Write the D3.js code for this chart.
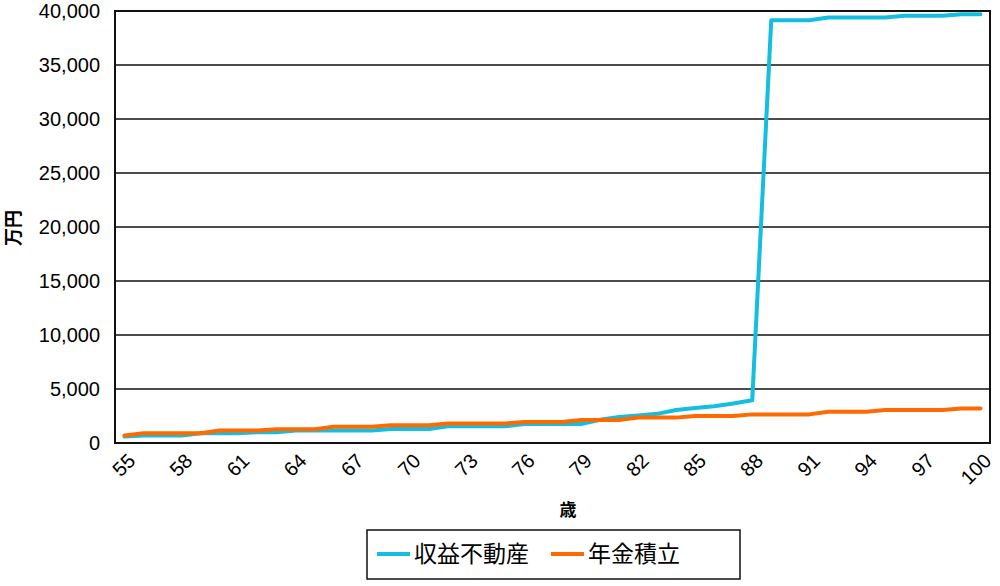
<!DOCTYPE html>
<html>
<head>
<meta charset="utf-8">
<script src="https://cdn.jsdelivr.net/npm/d3@7"></script>
<style>
  html, body { margin: 0; padding: 0; background: #fff; }
  svg { display: block; }
  text { font-family: "Liberation Sans", Arial, sans-serif; fill: #000; }
  .jp { font-family: "Noto Sans CJK JP", "Noto Sans", sans-serif; }
</style>
</head>
<body>
<svg id="chart" width="1000" height="586"></svg>
<script>
const ages = d3.range(55, 101);
const ageTickLabels = [55, 58, 61, 64, 67, 70, 73, 76, 79, 82, 85, 88, 91, 94, 97, 100];
const yTicks = [0, 5000, 10000, 15000, 20000, 25000, 30000, 35000, 40000];

const seriesNames = ["収益不動産", "年金積立"];
const seriesColors = ["#14BEE0", "#FF6A00"];

// 収益不動産 (age 55..100)
const realEstate = [
  600, 700, 700, 700, 900, 900, 900, 1000, 1000, 1150,
  1150, 1150, 1150, 1150, 1300, 1300, 1300, 1550, 1550, 1550,
  1550, 1750, 1750, 1750, 1750, 2150, 2400, 2550, 2700, 3050,
  3250, 3400, 3650, 3950, 39150, 39150, 39150, 39400, 39400, 39400,
  39400, 39550, 39550, 39550, 39700, 39700
];
// 年金積立 (age 55..100)
const pension = [
  700, 900, 900, 900, 900, 1150, 1150, 1150, 1280, 1280,
  1280, 1500, 1500, 1500, 1650, 1650, 1650, 1800, 1800, 1800,
  1800, 1950, 1950, 1950, 2130, 2130, 2130, 2350, 2350, 2350,
  2500, 2500, 2500, 2650, 2650, 2650, 2650, 2900, 2900, 2900,
  3050, 3050, 3050, 3050, 3200, 3200
];
const seriesValues = [realEstate, pension];

const svg = d3.select("#chart");
const L = 115, R = 990, T = 11, B = 443;

const x = d3.scaleBand().domain(ages).range([L, R]).padding(0);
const cx = a => x(a) + x.bandwidth() / 2;
const y = d3.scaleLinear().domain([0, 40000]).range([B, T]);

// gridlines
svg.append("g")
  .selectAll("line")
  .data(yTicks.filter(v => v > 0 && v < 40000))
  .join("line")
  .attr("x1", L).attr("x2", R)
  .attr("y1", d => y(d)).attr("y2", d => y(d))
  .attr("stroke", "#111").attr("stroke-width", 1.5);

// plot border
svg.append("rect")
  .attr("x", L).attr("y", T).attr("width", R - L).attr("height", B - T)
  .attr("fill", "none").attr("stroke", "#111").attr("stroke-width", 2);

// y axis labels
const fmt = d3.format(",");
svg.append("g")
  .selectAll("text")
  .data(yTicks)
  .join("text")
  .attr("x", 100).attr("y", d => y(d))
  .attr("dy", "0.36em")
  .attr("text-anchor", "end")
  .attr("font-size", 20)
  .text(d => fmt(d));

// x axis labels
svg.append("g")
  .selectAll("text")
  .data(ageTickLabels)
  .join("text")
  .attr("transform", d => `translate(${cx(d) + 7},${457}) rotate(-45)`)
  .attr("dy", "0.36em")
  .attr("text-anchor", "end")
  .attr("font-size", 20)
  .text(d => d);

// axis titles
svg.append("text")
  .attr("class", "jp")
  .attr("transform", "translate(14,228) rotate(-90)")
  .attr("text-anchor", "middle")
  .attr("dy", "0.36em")
  .attr("font-size", 18)
  .attr("font-weight", "bold")
  .text("万円");

svg.append("text")
  .attr("class", "jp")
  .attr("x", 568).attr("y", 510)
  .attr("text-anchor", "middle")
  .attr("dy", "0.36em")
  .attr("font-size", 17)
  .attr("font-weight", "bold")
  .text("歳");

// lines
const line = d3.line().x((d, i) => cx(ages[i])).y(d => y(d));
svg.append("g")
  .selectAll("path")
  .data(seriesValues)
  .join("path")
  .attr("d", d => line(d))
  .attr("fill", "none")
  .attr("stroke", (d, i) => seriesColors[i])
  .attr("stroke-width", 4)
  .attr("stroke-linejoin", "round")
  .attr("stroke-linecap", "round");

// legend
const lg = svg.append("g");
lg.append("rect")
  .attr("x", 367).attr("y", 530).attr("width", 373).attr("height", 49)
  .attr("fill", "#fff").attr("stroke", "#111").attr("stroke-width", 1.5);
const legendX = [377, 551];
seriesNames.forEach((name, i) => {
  lg.append("line")
    .attr("x1", legendX[i]).attr("x2", legendX[i] + 33)
    .attr("y1", 554).attr("y2", 554)
    .attr("stroke", seriesColors[i]).attr("stroke-width", 4);
  lg.append("text")
    .attr("class", "jp")
    .attr("x", legendX[i] + 37).attr("y", 554)
    .attr("dy", "0.36em")
    .attr("font-size", 23)
    .text(name);
});
</script>
</body>
</html>
